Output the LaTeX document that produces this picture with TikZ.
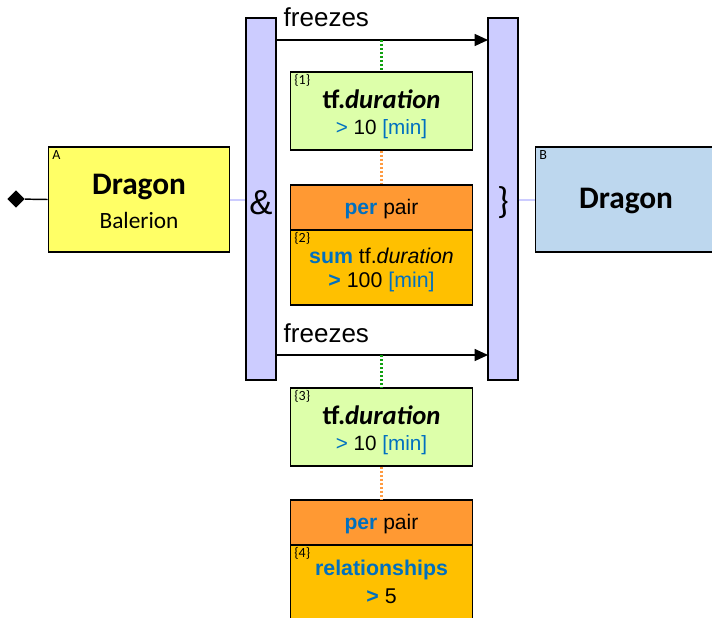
\documentclass[tikz,border=0pt]{standalone}
\usepackage{fontspec}
\setmainfont{Carlito}
\newfontfamily\arial{Liberation Sans}
\usetikzlibrary{arrows.meta,shapes.geometric}
\definecolor{entyellow}{HTML}{FFFF66}
\definecolor{entblue}{HTML}{BDD7EE}
\definecolor{barlav}{HTML}{CCCCFF}
\definecolor{condgreen}{HTML}{DDFFAA}
\definecolor{perorange}{HTML}{FF9933}
\definecolor{aggamber}{HTML}{FFC000}
\definecolor{kwblue}{HTML}{0070C0}
\definecolor{dotgreen}{HTML}{10A010}
\definecolor{dotorange}{HTML}{FF9A40}
\def\kw{\textcolor{kwblue}}
\tikzset{
  box/.style={draw=black,line width=0.9pt,inner sep=0pt,minimum width=136pt},
  bar/.style={draw=black,line width=0.9pt,fill=barlav,inner sep=0pt,minimum width=22.5pt,minimum height=271.5pt},
  tag/.style={anchor=north west,inner sep=0pt,font=\fontsize{10.5}{11}\selectfont},
  freeze/.style={-{Triangle[length=10pt,width=9pt]},line width=0.9pt},
  joint/.style={draw=barlav,line width=1.5pt},
  link/.style={line width=1.6pt,dash pattern=on 1.6pt off 1.4pt}
}

\begin{document}
\begin{tikzpicture}[x=0.75pt,y=-0.75pt]
\useasboundingbox (0,0) rectangle (712,617);
%%% entities %%%%
\node[box,fill=entyellow,minimum height=78.75pt] (dragA) at (139,199.5) {};
\node[box,fill=entblue,minimum height=78.75pt] (dragB) at (626,199.5) {};
\node[tag] (tagA) at (52,150) {A};
\node[tag] (tagB) at (539,150) {B};
\node (nameA) at (139,187) {\fontsize{23.5}{26}\selectfont\bfseries Dragon};
\node (valA) at (139,220) {\fontsize{17.5}{20}\selectfont Balerion};
\node (nameB) at (626,201) {\fontsize{23.5}{26}\selectfont\bfseries Dragon};
\node[diamond,fill=black,inner sep=0pt,minimum size=13pt] (root) at (16,199) {};
\draw[line width=1.1pt] (root) -- (dragA.west);

%%% bars %%%%
\node[bar] (andbar) at (261,199) {};
\node[bar] (endbar) at (503,199) {};
\node (amp) at (261,203) {\arial\fontsize{26}{28}\selectfont\&};
\node (brace) at (503,203) {\fontsize{28}{30}\selectfont\}};
\draw[joint] (dragA.east) -- (dragA.east -| andbar.west);
\draw[joint] (endbar.east |- dragB.west) -- (dragB.west);

%%% freezes 1 %%%%
\coordinate (f1s) at (276,40);
\coordinate (f1e) at (488,40);
\coordinate (f1m) at (381.5,40);
\draw[freeze] (f1s) -- (f1e);
\node[anchor=west] (fz1) at (279,17) {\arial\fontsize{19.5}{22}\selectfont freezes};
\node[box,fill=condgreen,minimum height=58.5pt] (cond1) at (381.5,111) {};
\node[tag] (tag1) at (294,74) {\{1\}};
\node (attr1) at (381.5,99) {\fontsize{20}{22}\selectfont\bfseries tf.\textit{duration}};
\node (lim1) at (381.5,129) {\arial\fontsize{15.5}{18}\selectfont\kw{>} 10 \kw{[min]}};
\node[box,fill=perorange,minimum height=33.75pt] (per2) at (381.5,207.5) {};
\node (pertx2) at (381.5,209) {\arial\fontsize{15.8}{18}\selectfont\kw{\bfseries per} pair};
\node[box,fill=aggamber,minimum height=56.25pt] (agg2) at (381.5,267.5) {};
\node[tag] (tag2) at (294,232) {\{2\}};
\node (attr2) at (381.5,256) {\arial\fontsize{16}{18}\selectfont\kw{\bfseries sum} tf.\textit{duration}};
\node (lim2) at (381.5,282) {\arial\fontsize{16}{18}\selectfont\kw{\bfseries >} 100 \kw{[min]}};
\draw[dotgreen,link] (f1m) -- (cond1.north);
\draw[dotorange,link] (cond1.south) -- (per2.north);

%%% freezes 2 %%%%
\coordinate (f2s) at (276,355);
\coordinate (f2e) at (488,355);
\coordinate (f2m) at (381.5,355);
\draw[freeze] (f2s) -- (f2e);
\node[anchor=west] (fz2) at (279,333) {\arial\fontsize{19.5}{22}\selectfont freezes};
\node[box,fill=condgreen,minimum height=58.5pt] (cond3) at (381.5,427) {};
\node[tag] (tag3) at (294,390) {\{3\}};
\node (attr3) at (381.5,415) {\fontsize{20}{22}\selectfont\bfseries tf.\textit{duration}};
\node (lim3) at (381.5,445) {\arial\fontsize{15.5}{18}\selectfont\kw{>} 10 \kw{[min]}};
\node[box,fill=perorange,minimum height=33.75pt] (per4) at (381.5,522.5) {};
\node (pertx4) at (381.5,524) {\arial\fontsize{15.8}{18}\selectfont\kw{\bfseries per} pair};
\node[box,fill=aggamber,minimum height=56.25pt] (agg4) at (381.5,582.5) {};
\node[tag] (tag4) at (294,547) {\{4\}};
\node (attr4) at (381.5,570) {\arial\fontsize{16}{18}\selectfont\kw{\bfseries relationships}};
\node (lim4) at (381.5,596) {\arial\fontsize{16}{18}\selectfont\kw{\bfseries >} 5};
\draw[dotgreen,link] (f2m) -- (cond3.north);
\draw[dotorange,link] (cond3.south) -- (per4.north);
\end{tikzpicture}
\end{document}
